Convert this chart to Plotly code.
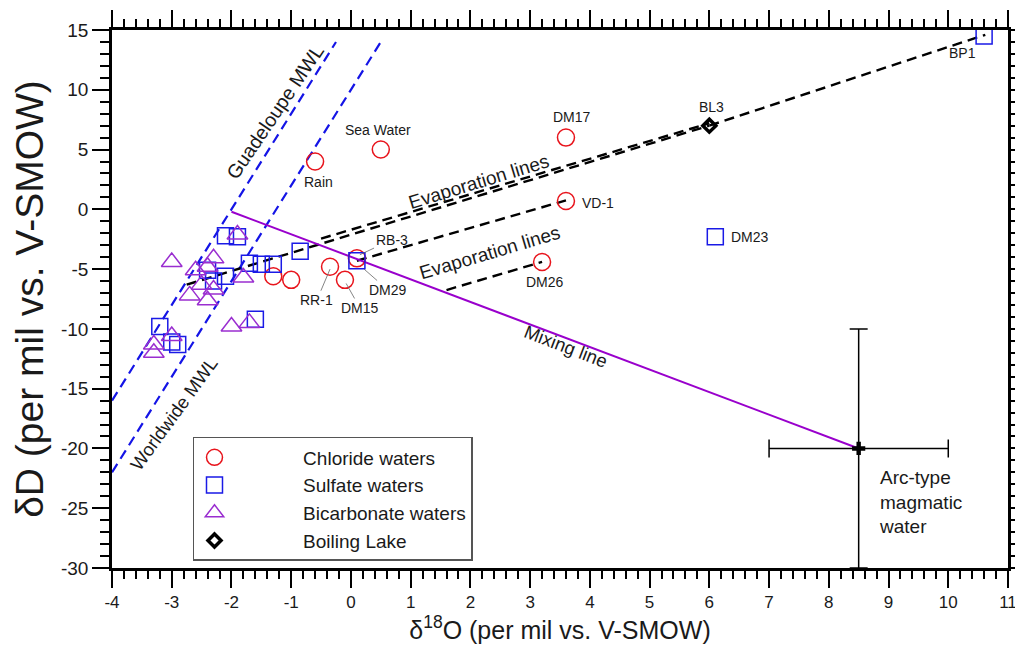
import plotly.graph_objects as go

# ---------------- data ----------------
chloride_x = [-0.6, 0.5, 3.6, 3.6, 3.2, -0.35, -0.1, 0.1, -1.3, -1.0]
chloride_y = [4.0, 5.0, 6.0, 0.7, -4.4, -4.8, -5.9, -4.1, -5.6, -5.9]

sulfate_x = [10.6, 6.1, 0.1, -0.85, -2.1, -1.9, -1.7, -1.5, -1.3, -2.4, -2.3, -2.1, -1.6, -3.2, -3.0, -2.9]
sulfate_y = [14.5, -2.3, -4.3, -3.5, -2.2, -2.3, -4.5, -4.6, -4.6, -5.1, -6.0, -5.6, -9.2, -9.8, -11.1, -11.3]

bicarb_x = [-3.0, -1.9, -2.6, -2.3, -2.4, -2.5, -2.7, -2.4, -2.3, -1.8, -2.0, -1.7, -3.0, -3.3, -3.3]
bicarb_y = [-4.4, -2.1, -5.1, -4.1, -4.8, -6.3, -7.2, -7.6, -6.7, -5.7, -9.8, -9.5, -10.6, -11.3, -12.0]

lake_x = [6.0]
lake_y = [7.0]

magma_x = [8.5]
magma_y = [-20.0]
magma_err_x = [1.5]
magma_err_y = [10.0]

guadeloupe_mwl_x = [-4.0, -0.25]
guadeloupe_mwl_y = [-16.0, 14.0]
worldwide_mwl_x = [-4.0, 0.53]
worldwide_mwl_y = [-22.0, 14.24]

mixing_x = [-2.0, 8.5]
mixing_y = [-0.2, -20.0]

evap_lines = [
    ([-2.75, 6.0], [-6.3, 7.0]),
    ([-0.5, 6.0], [-2.45, 7.2]),
    ([6.0, 10.62], [7.0, 14.6]),
    ([0.1, 3.6], [-4.3, 0.75]),
    ([1.6, 3.2], [-6.75, -4.4]),
]

x_ticks = list(range(-4, 12))
x_tick_labels = [str(v) for v in x_ticks]
y_ticks = list(range(-30, 16, 5))
y_tick_labels = [str(v) for v in y_ticks]

FONT = "Liberation Sans, Arial, sans-serif"
RED = "#e8141c"
BLUE = "#1a1ae6"
PURPLE = "#9a2ed0"
TXT = "#1a1a1a"

fig = go.Figure()

for xs, ys in [(guadeloupe_mwl_x, guadeloupe_mwl_y), (worldwide_mwl_x, worldwide_mwl_y)]:
    fig.add_trace(go.Scatter(x=xs, y=ys, mode="lines", showlegend=False, hoverinfo="skip",
                             line=dict(color="#1414e6", width=2.2, dash="10px,6px")))
for xs, ys in evap_lines:
    fig.add_trace(go.Scatter(x=xs, y=ys, mode="lines", showlegend=False, hoverinfo="skip",
                             line=dict(color="black", width=2.4, dash="10px,6px")))
fig.add_trace(go.Scatter(x=mixing_x, y=mixing_y, mode="lines", showlegend=False,
                         line=dict(color="#9900cc", width=2)))

fig.add_trace(go.Scatter(
    x=magma_x, y=magma_y, mode="markers", showlegend=False,
    marker=dict(symbol="cross", size=11, color="black"),
    error_x=dict(type="data", array=magma_err_x, color="black", thickness=1.5, width=9),
    error_y=dict(type="data", array=magma_err_y, color="black", thickness=1.5, width=9),
))

PAD = "\u00a0" * 13
fig.add_trace(go.Scatter(x=chloride_x, y=chloride_y, mode="markers", name=PAD + "Chloride waters",
                         legendgroup="a",
                         marker=dict(symbol="circle-open", size=17, color=RED, line=dict(width=1.5))))
fig.add_trace(go.Scatter(x=sulfate_x, y=sulfate_y, mode="markers", name=PAD + "Sulfate waters",
                         legendgroup="b",
                         marker=dict(symbol="square-open", size=16, color=BLUE, line=dict(width=1.5))))
fig.add_trace(go.Scatter(x=bicarb_x, y=bicarb_y, mode="markers", name=PAD + "Bicarbonate waters",
                         legendgroup="c",
                         marker=dict(symbol="triangle-up-open", size=18, color=PURPLE, line=dict(width=1.5))))
fig.add_trace(go.Scatter(x=lake_x, y=lake_y, mode="markers", name=PAD + "Boiling Lake",
                         legendgroup="d",
                         marker=dict(symbol="diamond-open", size=10, color="black", line=dict(width=3.5))))

ann = []
def lab(text, x, y, size=14, xanchor="center", angle=0):
    ann.append(dict(text=text, x=x, y=y, xref="x", yref="y", showarrow=False,
                    xanchor=xanchor, textangle=angle, font=dict(size=size, color=TXT, family=FONT)))

lab("Rain", -0.55, 2.3)
lab("Sea Water", 0.45, 6.6)
lab("DM17", 3.7, 7.7)
lab("BL3", 6.03, 8.55)
lab("BP1", 10.23, 13.1)
lab("VD-1", 3.83, 0.5, xanchor="left")
lab("DM23", 6.33, -2.3, xanchor="left")
lab("DM26", 3.25, -6.1)
lab("Guadeloupe MWL", -1.27, 8.1, size=19.5, angle=-56)
lab("Worldwide MWL", -2.96, -17.1, size=18.5, angle=-54)
lab("Evaporation lines", 2.15, 2.3, size=19, angle=-17)
lab("Evaporation lines", 2.33, -3.65, size=19, angle=-16.5)
lab("Mixing line", 3.6, -11.5, size=18.5, angle=21)
ann.append(dict(text="Arc-type<br>magmatic<br>water", x=8.8, y=-24.5, xref="x", yref="y",
                showarrow=False, xanchor="left", align="left",
                font=dict(size=19, color=TXT, family=FONT)))

def leader(text, tx, ty, px, py):
    ann.append(dict(text=text, x=px, y=py, ax=tx, ay=ty, xref="x", yref="y", axref="x", ayref="y",
                    showarrow=True, arrowhead=0, arrowwidth=0.8, arrowcolor="#666", standoff=0,
                    font=dict(size=14, color=TXT, family=FONT)))

leader("RR-1", -0.57, -7.6, -0.35, -5.0)
leader("DM15", 0.15, -8.25, -0.08, -6.2)
leader("DM29", 0.62, -6.75, 0.22, -5.0)
leader("RB-3", 0.68, -2.55, 0.15, -3.8)

axis_common = dict(showline=True, linecolor="black", linewidth=2.5, mirror="ticks",
                   ticks="outside", tickcolor="black", tickwidth=2, ticklen=17,
                   showgrid=False, zeroline=False, automargin=False,
                   ticklabeloverflow="allow")

fig.update_layout(
    width=1015, height=653,
    margin=dict(l=112, r=7, t=30, b=85),
    paper_bgcolor="white", plot_bgcolor="white",
    xaxis=dict(range=[-4, 11], tickvals=x_ticks, ticktext=x_tick_labels,
               tickfont=dict(size=17, color=TXT, family=FONT),
               minor=dict(dtick=0.2, ticks="outside", ticklen=8, tickwidth=1.5, tickcolor="black"),
               title=dict(text="δ<sup>18</sup>O (per mil vs. V-SMOW)", font=dict(size=25, color=TXT, family=FONT), standoff=4),
               **axis_common),
    yaxis=dict(range=[-30, 15], tickvals=y_ticks, ticktext=y_tick_labels,
               tickfont=dict(size=19, color=TXT, family=FONT),
               minor=dict(dtick=1, ticks="outside", ticklen=9, tickwidth=1.5, tickcolor="black"),
               title=dict(text="δD (per mil vs. V-SMOW)", font=dict(size=39, color=TXT, family=FONT), standoff=6),
               **axis_common),
    legend=dict(x=0.0904, y=0.2435, xanchor="left", yanchor="top",
                bordercolor="#555", borderwidth=1.5, bgcolor="white",
                font=dict(size=19, color=TXT, family=FONT),
                tracegroupgap=0, itemwidth=30),
    annotations=ann,
    font=dict(family=FONT),
)

fig.write_html("out.html")
